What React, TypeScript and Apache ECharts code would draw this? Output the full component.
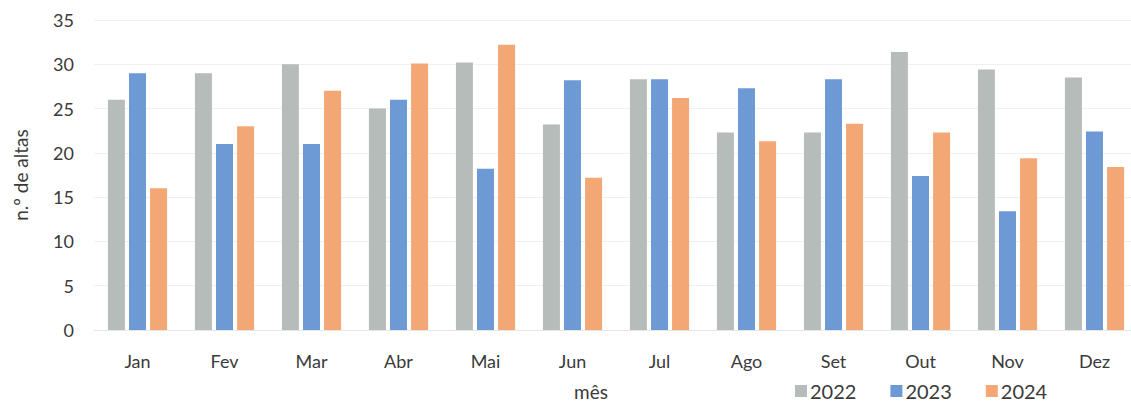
import React, { useEffect, useRef } from "react";
import * as echarts from "echarts";

const months = ["Jan", "Fev", "Mar", "Abr", "Mai", "Jun", "Jul", "Ago", "Set", "Out", "Nov", "Dez"];
const s2022 = [26, 29, 30, 25, 30.2, 23.2, 28.3, 22.3, 22.3, 31.4, 29.4, 28.5];
const s2023 = [29, 21, 21, 26, 18.2, 28.2, 28.3, 27.3, 28.3, 17.4, 13.4, 22.4];
const s2024 = [16, 23, 27, 30.1, 32.2, 17.2, 26.2, 21.3, 23.3, 22.3, 19.4, 18.4];
const seriesNames = ["2022", "2023", "2024"];
const colors = ["#b6bcb9", "#6d9ad5", "#f3a775"];

export default function App() {
  const ref = useRef<HTMLDivElement>(null);
  useEffect(() => {
    const chart = echarts.init(ref.current!, null, { renderer: "svg" });
    const font = "Lato, 'Open Sans', sans-serif";
    const data = [s2022, s2023, s2024];
    chart.setOption({
      animation: false,
      backgroundColor: "#ffffff",
      textStyle: { fontFamily: font },
      grid: { left: 94, top: 20, width: 1044, height: 310, containLabel: false, outerBoundsMode: "none" },
      legend: {
        data: seriesNames,
        left: 790,
        top: 376,
        itemWidth: 12,
        itemHeight: 12,
        itemGap: 34,
        icon: "rect",
        textStyle: { fontSize: 20, color: "#3a3a3a", fontFamily: font, padding: [0, 0, 0, -2] },
      },
      xAxis: {
        type: "category",
        data: months,
        name: "mês",
        nameLocation: "middle",
        nameGap: 52,
        nameTextStyle: { fontSize: 19, color: "#3a3a3a", fontFamily: font, padding: [0, 0, 0, -50] },
        axisLine: { show: true, lineStyle: { color: "#e6e6e6" } },
        axisTick: { show: false },
        axisLabel: { fontSize: 18, color: "#3a3a3a", margin: 22, fontFamily: font },
      },
      yAxis: {
        type: "value",
        min: 0,
        max: 35,
        interval: 5,
        name: "n.º de altas",
        nameLocation: "middle",
        nameGap: 64,
        nameTextStyle: { fontSize: 19, color: "#3a3a3a", fontFamily: font },
        axisLine: { show: false },
        axisTick: { show: false },
        axisLabel: { fontSize: 18, color: "#3a3a3a", margin: 20, fontFamily: font },
        splitLine: { lineStyle: { color: "#f0f0f0" } },
      },
      series: seriesNames.map((n, i) => ({
        name: n,
        type: "bar",
        data: data[i],
        barWidth: 17,
        barGap: "24%",
        itemStyle: { color: colors[i] },
      })),
    });
    return () => chart.dispose();
  }, []);
  return <div ref={ref} style={{ position: "fixed", left: 0, top: 0, width: 1131, height: 403 }} />;
}
